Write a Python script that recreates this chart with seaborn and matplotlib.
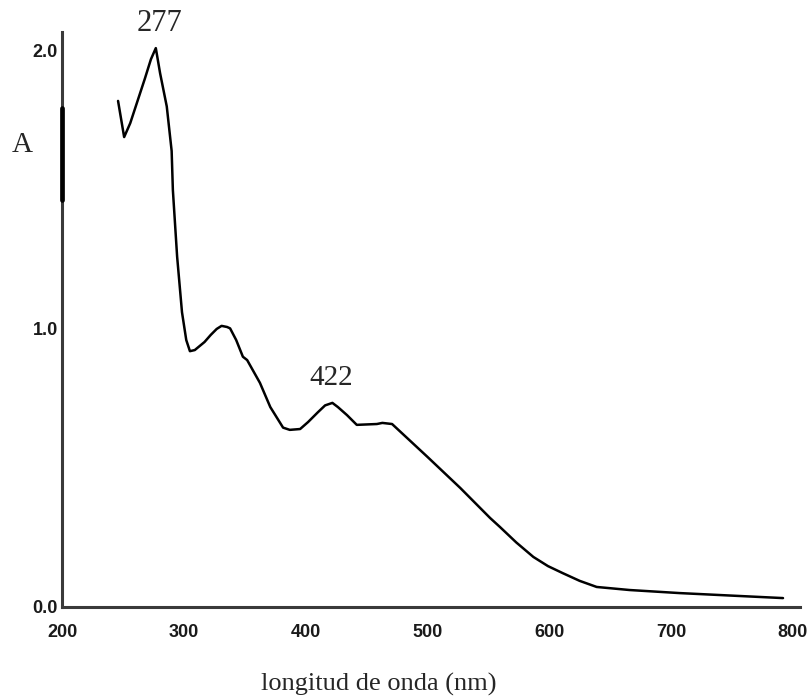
import pandas as pd
import matplotlib.pyplot as plt
import seaborn as sns

# Absorption spectrum
wavelength = [246, 251, 256, 262, 268, 273, 277, 280.5, 286, 290, 291, 294.5, 298.5,
              302, 305, 309, 317, 322, 327, 331, 335.5, 338, 343, 348.5, 352, 362.5,
              371, 381.5, 387, 395.5, 402, 410, 416, 422, 426.5, 434, 442, 458.5, 463,
              471, 500, 527, 551.5, 559.5, 573, 587, 599, 611, 625, 639, 666, 707, 754, 792]
absorbance = [1.82, 1.69, 1.74, 1.82, 1.90, 1.97, 2.01, 1.92, 1.80, 1.64, 1.50, 1.26, 1.06,
              0.96, 0.92, 0.924, 0.953, 0.978, 1.00, 1.011, 1.007, 1.002, 0.96, 0.90, 0.888, 0.806,
              0.719, 0.645, 0.637, 0.640, 0.665, 0.70, 0.725, 0.734, 0.719, 0.69, 0.655, 0.658, 0.662,
              0.658, 0.540, 0.428, 0.320, 0.288, 0.232, 0.180, 0.147, 0.122, 0.094, 0.072, 0.061,
              0.050, 0.040, 0.032]
peaks = [277, 422]
x_ticks = [200, 300, 400, 500, 600, 700, 800]
y_ticks = [0.0, 1.0, 2.0]

spec = pd.DataFrame({'nm': wavelength, 'A': absorbance})

sns.set_style('white')
plt.rcParams['font.family'] = ['Liberation Serif', 'DejaVu Serif']

fig = plt.figure(figsize=(8.12, 6.98), dpi=100)
ax = fig.add_axes([0.0764, 0.1304, 0.9089, 0.8238])

sns.lineplot(data=spec, x='nm', y='A', color='black', linewidth=1.8,
             estimator=None, sort=False, ax=ax)

ax.set_xlim(200, 806)
ax.set_ylim(0, 2.068)
ax.set_xticks(x_ticks)
ax.set_yticks(y_ticks)
ax.set_xticklabels([str(t) for t in x_ticks], fontfamily='Liberation Sans',
                   fontweight='bold', fontsize=13)
ax.set_yticklabels(['%.1f' % t for t in y_ticks], fontfamily='Liberation Sans',
                   fontweight='bold', fontsize=13)
ax.tick_params(axis='both', length=0, colors='#1a1a1a')
ax.tick_params(axis='x', pad=12)
ax.tick_params(axis='y', pad=3)

for side in ['top', 'right']:
    ax.spines[side].set_visible(False)
for side in ['left', 'bottom']:
    ax.spines[side].set_color('#3a3a3a')
    ax.spines[side].set_linewidth(2.2)
# darker stretch on the scanned y axis
ax.axvline(200, ymin=0.708, ymax=0.868, color='black', linewidth=3.4,
           zorder=5, clip_on=False)

ax.set_xlabel('longitud de onda (nm)', fontsize=19)
ax.xaxis.set_label_coords(0.4295, -0.134)
ax.xaxis.label.set_va('center')
ax.set_ylabel('A', fontsize=21, rotation=0)
ax.yaxis.set_label_coords(-0.054, 0.803)
ax.yaxis.label.set_va('center')
ax.yaxis.label.set_ha('center')

# peak labels
peak_A = [spec.loc[spec['nm'] == p, 'A'].iloc[0] for p in peaks]
ax.annotate(str(peaks[0]), xy=(peaks[0], peak_A[0]), xytext=(3, 18),
            textcoords='offset points', ha='center', va='center', fontsize=22)
ax.annotate(str(peaks[1]), xy=(peaks[1], peak_A[1]), xytext=(-1, 18),
            textcoords='offset points', ha='center', va='center', fontsize=21)

fig.savefig('out.png', dpi=100)
